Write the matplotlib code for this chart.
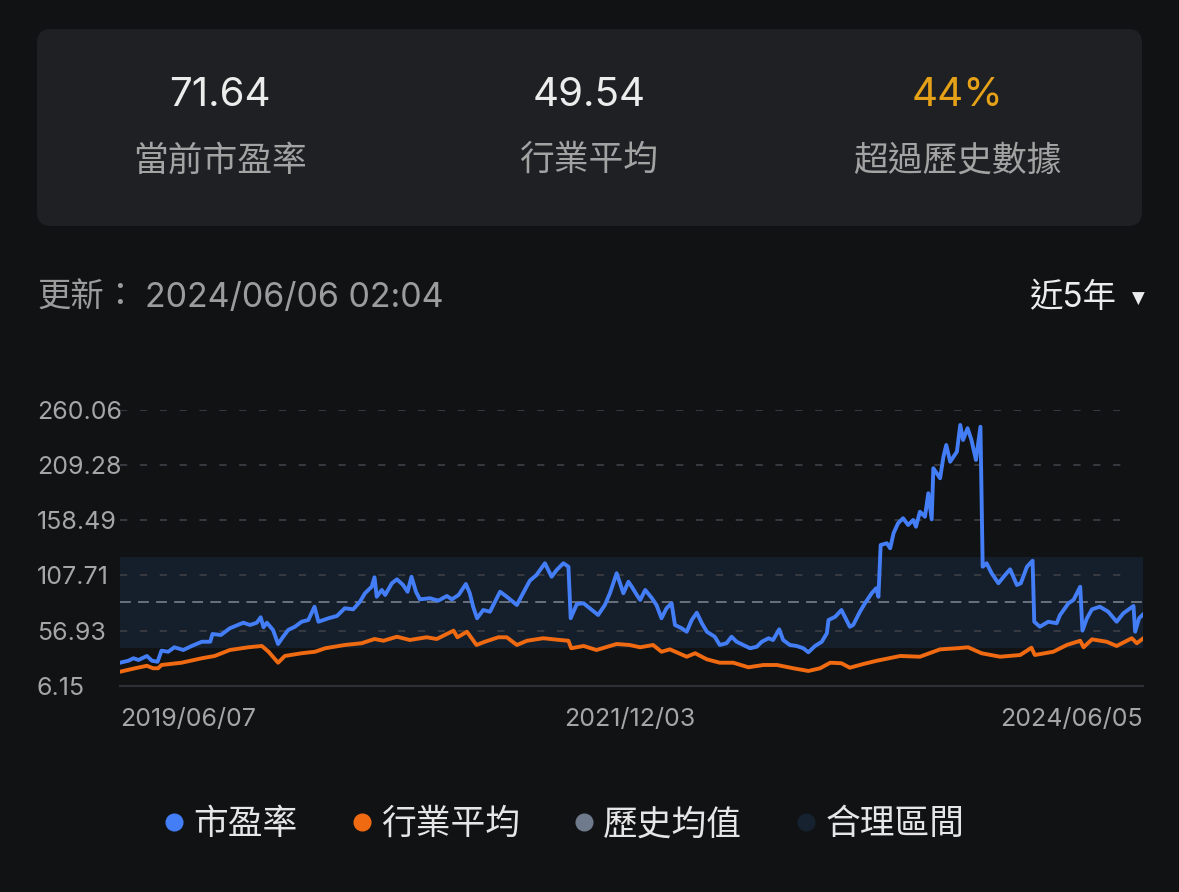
import matplotlib
matplotlib.use('Agg')
import matplotlib.pyplot as plt
from matplotlib.patches import FancyBboxPatch
from matplotlib.lines import Line2D
import pandas as pd

plt.rcParams['font.family'] = ['Inter', 'Noto Sans CJK TC', 'DejaVu Sans']

# header card
header_values = ['71.64', '49.54', '44%']
header_labels = ['當前市盈率', '行業平均', '超過歷史數據']
update_label = '更新：'
update_time = '2024/06/06 02:04'
range_text = '近5年'

# axis
y_ticks = [6.15, 56.93, 107.71, 158.49, 209.28, 260.06]
start_date = '2019-06-07'
x_tick_dates = ['2019-06-07', '2021-12-03', '2024-06-05']
x_tick_labels = ['2019/06/07', '2021/12/03', '2024/06/05']

hist_mean = 83.4
fair_low = 41.1
fair_high = 124.8

legend_labels = ['市盈率', '行業平均', '歷史均值', '合理區間']

# P/E series (day = days after 2019-06-07)
pe_day = [0, 15, 24, 33, 48, 57, 67, 74, 86, 97, 113, 128, 146, 161, 165, 180, 196, 220,
          232, 244, 251, 256, 262, 273, 282, 291, 300, 312, 324, 336, 347, 354, 372, 387,
          401, 416, 428, 437, 449, 454, 458, 467, 473, 485, 494, 505, 513, 520, 528, 535,
          553, 568, 583, 592, 604, 617, 624, 630, 637, 648, 660, 669, 678, 690, 708, 719,
          731, 743, 758, 770, 779, 791, 800, 804, 815, 827, 838, 853, 865, 874, 886, 898,
          907, 913, 922, 928, 937, 949, 957, 966, 975, 984, 990, 1002, 1011, 1020, 1029,
          1038, 1047, 1061, 1070, 1082, 1091, 1100, 1112, 1124, 1136, 1145, 1157, 1165,
          1176, 1183, 1195, 1207, 1219, 1228, 1240, 1252, 1261, 1264, 1276, 1287, 1302,
          1308, 1320, 1329, 1341, 1349, 1353, 1357, 1368, 1374, 1380, 1388, 1397, 1406,
          1415, 1420, 1427, 1436, 1442, 1448, 1451, 1463, 1469, 1474, 1481, 1493, 1499,
          1504, 1512, 1519, 1527, 1531, 1535, 1539, 1546, 1555, 1567, 1579, 1588, 1600,
          1607, 1618, 1628, 1631, 1641, 1656, 1671, 1677, 1692, 1701, 1713, 1717, 1725,
          1734, 1748, 1763, 1778, 1790, 1808, 1811, 1818, 1825]
pe_values = [27.3, 29.1, 31.4, 29.8, 33.5, 29.1, 28.2, 38.4, 37.4, 41.5, 39.0, 42.7, 46.6,
             46.6, 53.7, 52.8, 59.0, 64.1, 62.0, 64.1, 69.1, 59.9, 64.1, 57.4, 44.5, 51.2,
             57.4, 60.4, 65.0, 66.6, 78.8, 65.0, 68.2, 70.3, 77.4, 76.4, 83.4, 91.2, 97.2,
             105.9, 88.0, 94.2, 89.6, 100.4, 104.0, 98.8, 92.6, 106.4, 92.6, 85.6, 86.6,
             84.4, 88.7, 85.6, 89.6, 99.7, 91.2, 78.8, 68.2, 75.8, 74.2, 83.4, 92.6, 88.0,
             80.4, 91.2, 102.7, 108.0, 118.8, 106.4, 112.6, 118.8, 115.6, 68.2, 81.3, 82.0,
             77.4, 71.2, 80.4, 91.2, 109.6, 91.2, 101.8, 97.2, 89.6, 85.0, 94.2, 86.6, 80.4,
             68.2, 77.4, 82.0, 62.0, 59.0, 55.8, 66.6, 73.3, 63.6, 55.8, 51.2, 43.6, 45.2,
             51.2, 46.6, 43.6, 40.6, 42.0, 46.6, 49.8, 48.2, 58.0, 48.2, 43.6, 42.7, 40.6,
             36.9, 42.7, 46.6, 54.4, 66.6, 69.6, 75.8, 60.4, 62.0, 74.2, 82.0, 91.2, 95.8,
             88.0, 135.6, 137.2, 132.6, 146.4, 155.6, 160.2, 154.0, 158.6, 152.4, 166.2,
             161.6, 183.2, 159.2, 206.2, 197.0, 216.8, 227.6, 212.2, 221.4, 246.0, 232.2,
             243.0, 232.2, 213.8, 229.2, 244.4, 115.6, 118.8, 109.6, 100.4, 108.0, 113.2,
             98.8, 100.4, 115.6, 121.1, 65.0, 60.4, 65.0, 63.6, 71.2, 82.0, 85.0, 97.2,
             56.8, 68.2, 76.4, 78.8, 74.2, 65.0, 72.8, 79.5, 55.8, 68.2, 71.64]

# industry average series
ind_day = [0, 27, 48, 59, 68, 74, 110, 146, 169, 196, 229, 253, 265, 282, 294, 324, 348,
           366, 401, 431, 454, 470, 494, 517, 547, 565, 595, 602, 619, 636, 651, 675, 690,
           708, 726, 755, 785, 800, 805, 827, 850, 886, 909, 928, 951, 966, 981, 1011, 1026,
           1047, 1070, 1094, 1121, 1148, 1172, 1201, 1228, 1249, 1267, 1287, 1302, 1326,
           1350, 1392, 1427, 1463, 1493, 1513, 1537, 1570, 1606, 1626, 1632, 1665, 1689,
           1713, 1719, 1734, 1760, 1778, 1805, 1814, 1825]
ind_values = [19.0, 22.2, 24.5, 22.2, 22.2, 25.2, 27.3, 31.4, 33.5, 39.0, 41.5, 42.7, 37.4,
              27.3, 33.5, 36.0, 37.4, 40.6, 43.6, 45.2, 49.1, 47.5, 51.2, 48.2, 50.7, 49.1,
              56.8, 50.7, 55.8, 43.6, 46.6, 50.7, 50.7, 43.6, 47.5, 49.8, 48.2, 47.5, 40.6,
              42.7, 39.0, 44.5, 43.6, 41.5, 43.6, 37.4, 39.6, 32.8, 36.0, 30.4, 27.3, 27.3,
              23.1, 25.2, 25.2, 22.2, 19.7, 22.2, 27.3, 26.8, 22.7, 26.1, 29.1, 33.5, 32.8,
              39.6, 40.6, 41.5, 36.0, 32.8, 34.4, 41.1, 34.4, 37.4, 43.6, 47.5, 41.5, 48.8,
              46.6, 42.7, 49.8, 45.2, 49.54]

bg = '#111214'
W, H = 1179, 892
fig = plt.figure(figsize=(W / 100, H / 100), dpi=100, facecolor=bg)

# pixel-space layer for the card and header texts
pix = fig.add_axes([0, 0, 1, 1], zorder=0)
pix.set_xlim(0, W)
pix.set_ylim(H, 0)
pix.axis('off')
pix.add_patch(FancyBboxPatch((37, 29), 1105, 197, boxstyle='round,pad=0,rounding_size=14',
                             facecolor='#1f2023', edgecolor='none'))
for xc, val, lab, col in zip([220, 589, 957], header_values, header_labels,
                             ['#ececec', '#ececec', '#e5a117']):
    pix.text(xc, 96, val, color=col, fontsize=29, ha='center', va='center')
    pix.text(xc, 161, lab, color='#a3a3a3', fontsize=25, ha='center', va='center')
pix.text(37, 298, update_label, color='#9c9c9c', fontsize=24, ha='left', va='center')
pix.text(145, 298, update_time, color='#9c9c9c', fontsize=24.5, ha='left', va='center')
pix.text(1116, 298, range_text, color='#ececec', fontsize=24, ha='right', va='center')
pix.text(1138, 299, '▼', color='#ececec', fontsize=12, ha='center', va='center',
         family='DejaVu Sans')

# chart
ax = fig.add_axes([120 / W, 1 - 685.7 / H, 1023 / W, 276 / H], zorder=1)
ax.set_facecolor('none')
t0 = pd.Timestamp(start_date)
pe_x = t0 + pd.to_timedelta(pe_day, unit='D')
ind_x = t0 + pd.to_timedelta(ind_day, unit='D')

ax.axhspan(fair_low, fair_high, color='#151e2b', zorder=0, lw=0)
ax.hlines(y_ticks[1:], 0, 0.99, transform=ax.get_yaxis_transform(), colors='#3a3d43',
          lw=1.3, linestyles=(0, (4, 7)), zorder=1)
ax.axhline(hist_mean, color='#6f7788', lw=1.3, dashes=(6, 4), zorder=2)
ax.plot(ind_x, ind_values, color='#f06a12', lw=2.8, zorder=3, solid_joinstyle='round')
ax.plot(pe_x, pe_values, color='#437ef6', lw=2.8, zorder=4, solid_joinstyle='round')

ax.set_xlim(pd.Timestamp(x_tick_dates[0]), pd.Timestamp(x_tick_dates[-1]))
ax.set_ylim(y_ticks[0], y_ticks[-1])
for s in ['top', 'right', 'left']:
    ax.spines[s].set_visible(False)
ax.spines['bottom'].set_color('#2e3035')
ax.spines['bottom'].set_linewidth(1.5)

ax.set_yticks(y_ticks)
ax.set_yticklabels([f'{v:.2f}' for v in y_ticks])
ax.tick_params(axis='y', length=0, pad=60, labelsize=18, labelcolor='#a6a6a6')
for lab in ax.get_yticklabels():
    lab.set_ha('left')

ax.set_xticks(pd.to_datetime(x_tick_dates))
ax.set_xticklabels(x_tick_labels)
ax.tick_params(axis='x', length=0, pad=16, labelsize=18, labelcolor='#a6a6a6')
xl = ax.get_xticklabels()
xl[0].set_ha('left')
xl[-1].set_ha('right')

handles = [Line2D([], [], marker='o', ls='none', markersize=12, color=c)
           for c in ['#437ef6', '#f06a12', '#6f7a8c', '#172231']]
fig.legend(handles, legend_labels, loc='center', bbox_to_anchor=(564 / W, 1 - 825 / H),
           ncol=4, frameon=False, fontsize=25, labelcolor='#e6e6e6',
           handletextpad=0.25, columnspacing=1.55, handlelength=0.6)

fig.savefig('out.png', dpi=100, facecolor=bg)
